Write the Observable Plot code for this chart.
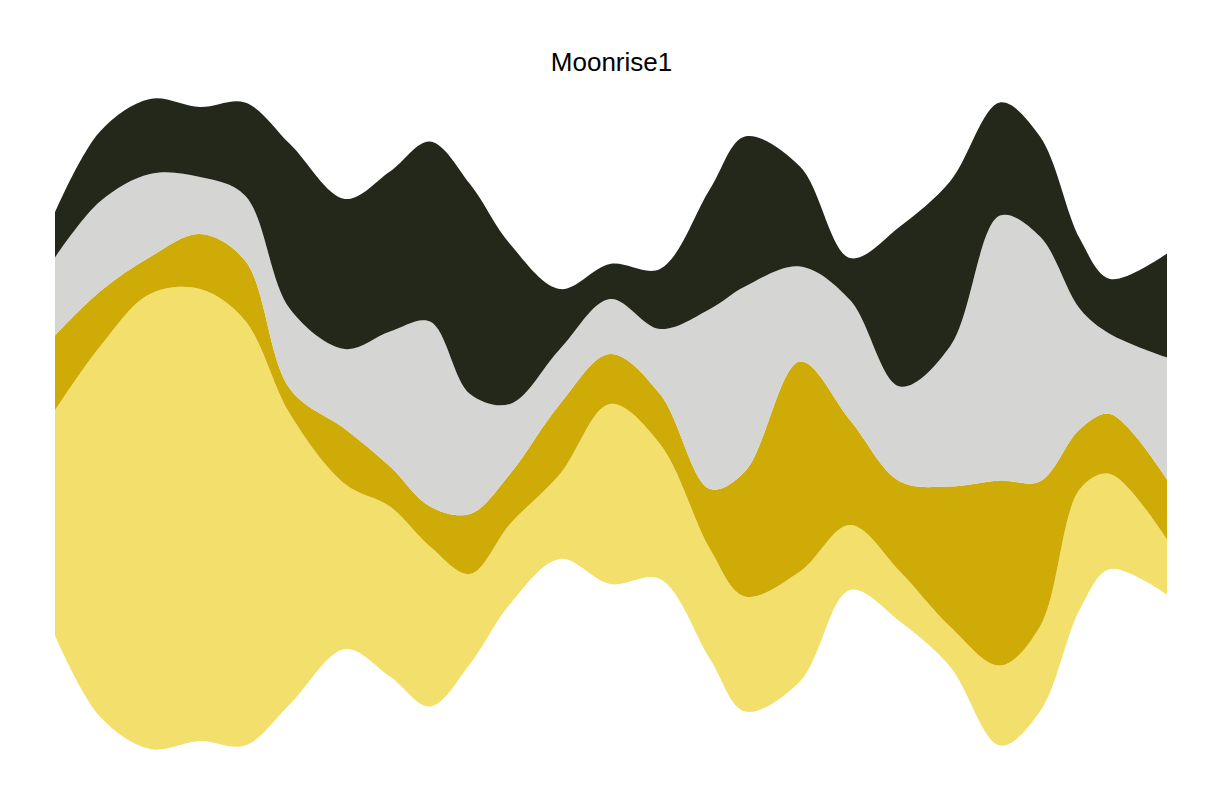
<!DOCTYPE html>
<html>
<head>
<meta charset="utf-8">
<script src="https://cdn.jsdelivr.net/npm/d3@7"></script>
<script src="https://cdn.jsdelivr.net/npm/@observablehq/plot@0.6"></script>
<style>body{margin:0;background:#fff;font-family:Arial,"Liberation Sans",sans-serif}</style>
</head>
<body>
<div id="vis"></div>
<script>
const t = [55,100,150,200,245,290,345,390,430,470,510,560,610,660,710,745,800,850,900,950,1000,1040,1080,1110,1167]
const series = ['A', 'B', 'C', 'D']
const colors = ['#F3DF6C', '#CEAB07', '#D5D5D3', '#24281A']
const valA = [225,370,455,452,425,290,165,170,160,90,80,85,180,135,110,115,110,65,50,40,80,85,120,95,55]
const valB = [75,55,37,55,60,25,55,40,40,60,50,70,50,50,60,125,210,105,90,140,185,145,60,60,60]
const valC = [78,90,83,57,65,80,80,135,185,120,70,55,55,65,180,185,95,120,95,140,265,245,120,80,122]
const valD = [45,70,75,70,93,165,150,160,180,210,160,60,35,60,120,150,100,42,160,165,113,100,70,55,104]

const vals = [valA, valB, valC, valD]
// symmetric (mirror) stacking around zero
const data = []
t.forEach((x, j) => {
  const total = d3.sum(vals, v => v[j])
  let base = -total / 2
  series.forEach((s, i) => {
    data.push({t: x, s, y1: base, y2: base + vals[i][j]})
    base += vals[i][j]
  })
})

let chart = Plot.plot({
  width: 1213,
  height: 808,
  marginLeft: 55,
  marginRight: 46,
  marginTop: 0,
  marginBottom: 0,
  x: {domain: [55, 1167], axis: null},
  y: {domain: [-384, 424], axis: null},
  color: {domain: series, range: colors},
  marks: [
    Plot.areaY(data, {x: 't', y1: 'y1', y2: 'y2', z: 's', fill: 's', curve: 'catmull-rom'}),
    Plot.text(['Moonrise1'], {frameAnchor: 'top', dy: 52, fontSize: 26, fill: '#000'})
  ],
  style: {fontFamily: 'Arial, "Liberation Sans", sans-serif', background: '#fff'}
})
d3.select('#vis').append(() => chart)
</script>
</body>
</html>
